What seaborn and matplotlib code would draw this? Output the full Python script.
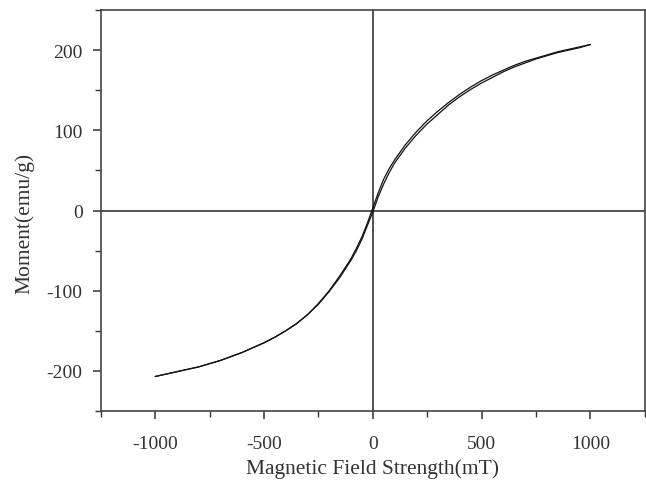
import matplotlib
matplotlib.use("Agg")
import matplotlib.pyplot as plt
import seaborn as sns
import pandas as pd
from matplotlib.ticker import MultipleLocator

# Descending branch (from +1000 to -1000)
field_down = [1000, 950, 900, 850, 800, 750, 700, 650, 600, 550, 500, 450, 400, 350, 300,
              250, 200, 150, 100, 75, 50, 25, 0,
              -25, -50, -75, -100, -150, -200, -250, -300, -350, -400, -450, -500,
              -550, -600, -650, -700, -750, -800, -850, -900, -950, -1000]
moment_down = [207, 204, 201, 198, 194, 190, 186, 181, 175, 169, 162, 154, 145, 135, 124,
               112, 98, 82, 63, 52, 39, 22, 3,
               -16, -33, -47, -60, -81, -100, -116, -130, -141, -150, -158, -165,
               -171, -177, -182, -187, -191, -195, -198, -201, -204, -207]
# Ascending branch (from -1000 to +1000)
field_up = [-1000, -950, -900, -850, -800, -750, -700, -650, -600, -550, -500, -450, -400,
            -350, -300, -250, -200, -150, -100, -75, -50, -25, 0,
            25, 50, 75, 100, 150, 200, 250, 300, 350, 400, 450, 500,
            550, 600, 650, 700, 750, 800, 850, 900, 950, 1000]
moment_up = [-207, -204, -201, -198, -195, -191, -187, -182, -177, -171, -165, -158, -150,
             -141, -130, -117, -101, -83, -62, -50, -36, -19, -2,
             17, 33, 47, 59, 78, 94, 108, 120, 132, 142, 151, 159,
             166, 173, 179, 184, 189, 193, 197, 200, 203, 207]

df = pd.concat([
    pd.DataFrame({"field": field_down, "moment": moment_down, "branch": "down"}),
    pd.DataFrame({"field": field_up, "moment": moment_up, "branch": "up"}),
])

sns.set_style("ticks")
plt.rcParams["font.family"] = ["Liberation Serif", "DejaVu Serif"]
plt.rcParams["axes.unicode_minus"] = False

fig = plt.figure(figsize=(6.46, 4.81), dpi=100)
ax = fig.add_axes([0.156, 0.1435, 0.842, 0.8335])

ax.axhline(0, color="#333333", lw=1.2, zorder=1)
ax.axvline(0, color="#333333", lw=1.2, zorder=1)

for b in ["down", "up"]:
    sub = df[df["branch"] == b]
    sns.lineplot(data=sub, x="field", y="moment", sort=False, estimator=None,
                 color="#111111", lw=0.9, ax=ax, zorder=3)

ax.set_xlim(-1250, 1250)
ax.set_ylim(-250, 250)
ax.xaxis.set_major_locator(MultipleLocator(500))
ax.xaxis.set_minor_locator(MultipleLocator(250))
ax.yaxis.set_major_locator(MultipleLocator(100))
ax.yaxis.set_minor_locator(MultipleLocator(50))
ax.tick_params(which="major", direction="out", length=6, width=1.1, color="#333333",
               labelsize=14, labelcolor="#333333")
ax.tick_params(axis="x", which="major", pad=11)
ax.tick_params(axis="y", which="major", pad=7)
ax.tick_params(which="minor", direction="out", length=4, width=1.0, color="#333333")
ax.tick_params(top=False, right=False, which="both")

for s in ax.spines.values():
    s.set_color("#444444")
    s.set_linewidth(1.2)

ax.set_xlabel("Magnetic Field Strength(mT)", fontsize=15.5, color="#333333", va="center")
ax.set_ylabel("Moment(emu/g)", fontsize=15.5, color="#333333", va="center")
ax.xaxis.set_label_coords(0.5, -0.143)
ax.yaxis.set_label_coords(-0.14, 0.47)

fig.savefig("out.png", dpi=100)
